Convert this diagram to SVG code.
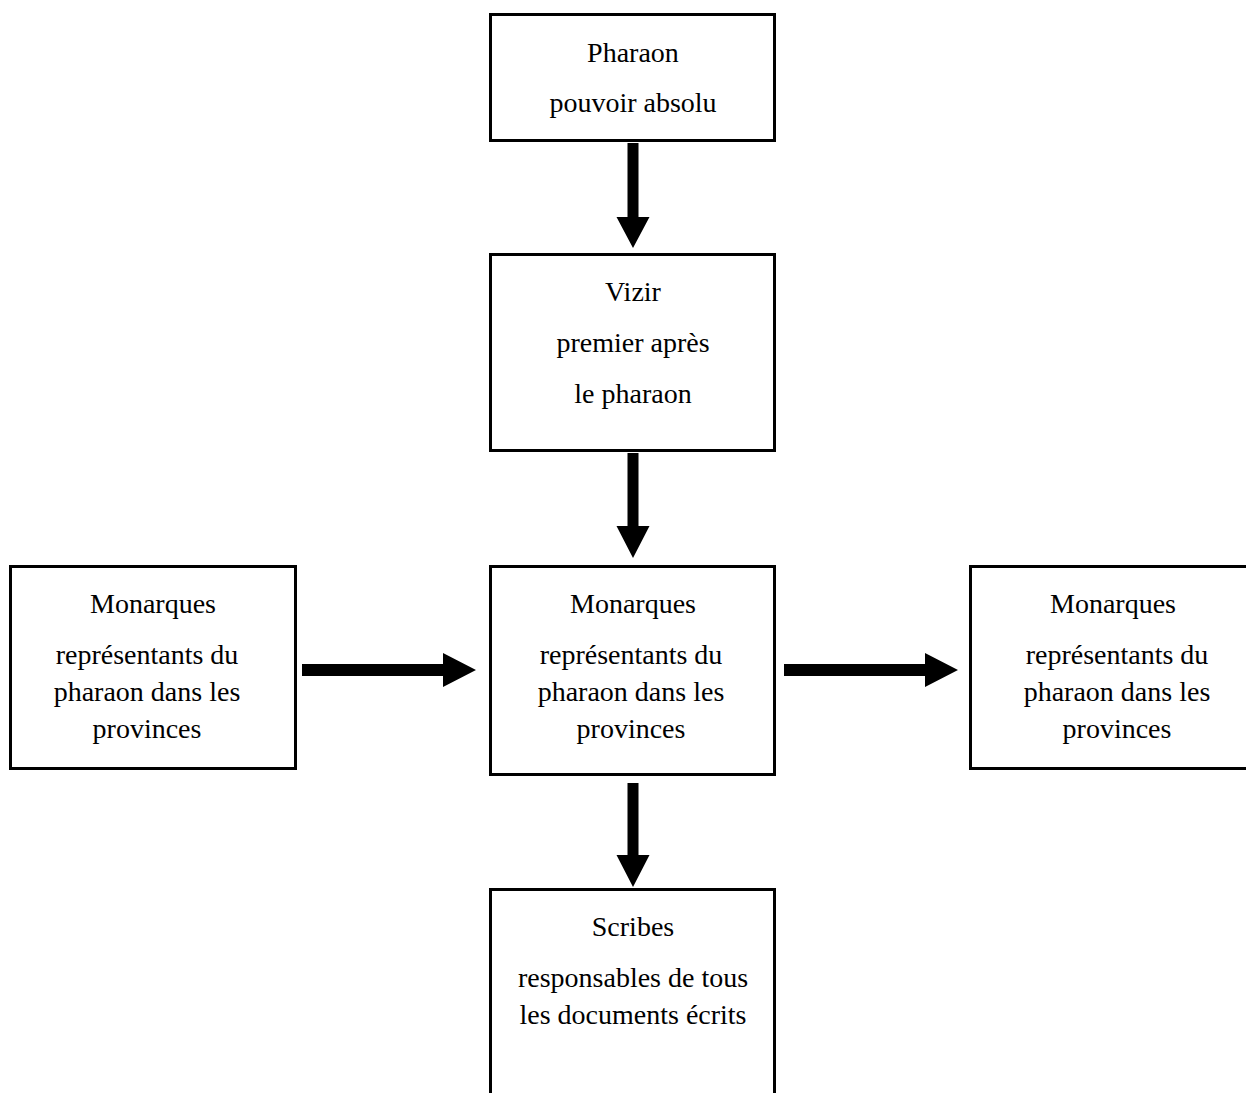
<svg xmlns="http://www.w3.org/2000/svg" width="1246" height="1093" viewBox="0 0 1246 1093">
  <style>
    .box { fill: #ffffff; stroke: #000000; stroke-width: 3; }
    .label { font-family: "Liberation Serif", "Times New Roman", serif; font-size: 28px; fill: #000000; text-anchor: middle; }
    .arrow { fill: #000000; }
  </style>
  <rect width="1246" height="1093" fill="#ffffff"/>

  <g id="connectors">
    <!-- Pharaon -> Vizir -->
    <polygon class="arrow" points="627.5,143 638.5,143 638.5,217 649.5,217 633,248 616.5,217 627.5,217"/>
    <!-- Vizir -> Monarques (centre) -->
    <polygon class="arrow" points="627.5,453 638.5,453 638.5,526 649.5,526 633,558 616.5,526 627.5,526"/>
    <!-- Monarques (centre) -> Scribes -->
    <polygon class="arrow" points="627.5,783 638.5,783 638.5,855 649.5,855 633,887 616.5,855 627.5,855"/>
    <!-- Monarques (gauche) -> Monarques (centre) -->
    <polygon class="arrow" points="302,664 443,664 443,653 476,670 443,687 443,676 302,676"/>
    <!-- Monarques (centre) -> Monarques (droite) -->
    <polygon class="arrow" points="784,664 925,664 925,653 958,670 925,687 925,676 784,676"/>
  </g>

  <g id="node-pharaon">
    <rect class="box" x="490.5" y="14.5" width="284" height="126"/>
    <text class="label" x="633" y="62">Pharaon</text>
    <text class="label" x="633" y="112">pouvoir absolu</text>
  </g>

  <g id="node-vizir">
    <rect class="box" x="490.5" y="254.5" width="284" height="196"/>
    <text class="label" x="633" y="301">Vizir</text>
    <text class="label" x="633" y="352">premier après</text>
    <text class="label" x="633" y="403">le pharaon</text>
  </g>

  <g id="node-monarques-gauche">
    <rect class="box" x="10.5" y="566.5" width="285" height="202"/>
    <text class="label" x="153" y="613">Monarques</text>
    <text class="label" x="147" y="664">représentants du</text>
    <text class="label" x="147" y="701">pharaon dans les</text>
    <text class="label" x="147" y="738">provinces</text>
  </g>

  <g id="node-monarques-centre">
    <rect class="box" x="490.5" y="566.5" width="284" height="208"/>
    <text class="label" x="633" y="613">Monarques</text>
    <text class="label" x="631" y="664">représentants du</text>
    <text class="label" x="631" y="701">pharaon dans les</text>
    <text class="label" x="631" y="738">provinces</text>
  </g>

  <g id="node-monarques-droite">
    <rect class="box" x="970.5" y="566.5" width="285" height="202"/>
    <text class="label" x="1113" y="613">Monarques</text>
    <text class="label" x="1117" y="664">représentants du</text>
    <text class="label" x="1117" y="701">pharaon dans les</text>
    <text class="label" x="1117" y="738">provinces</text>
  </g>

  <g id="node-scribes">
    <rect class="box" x="490.5" y="889.5" width="284" height="220"/>
    <text class="label" x="633" y="936">Scribes</text>
    <text class="label" x="633" y="987">responsables de tous</text>
    <text class="label" x="633" y="1024">les documents écrits</text>
  </g>
</svg>
